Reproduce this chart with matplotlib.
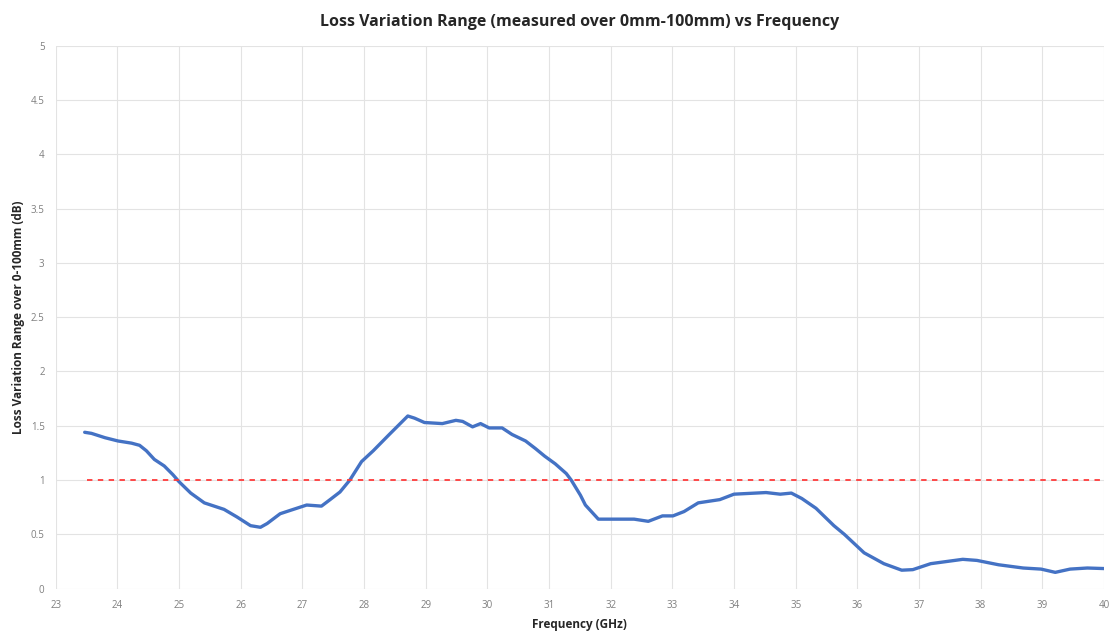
import matplotlib
matplotlib.use("Agg")
import matplotlib.pyplot as plt

# Loss variation range readings (GHz, dB)
freq_ghz = [23.47, 23.58, 23.80, 24.01, 24.23, 24.36, 24.47, 24.60, 24.76, 24.90,
            25.00, 25.19, 25.41, 25.73, 25.94, 26.16, 26.32, 26.43, 26.64, 26.80,
            27.07, 27.31, 27.45, 27.61, 27.77, 27.96, 28.15, 28.41, 28.71, 28.82,
            28.98, 29.27, 29.49, 29.60, 29.76, 29.89, 30.03, 30.24, 30.40, 30.62,
            30.78, 30.93, 31.10, 31.28, 31.36, 31.51, 31.59, 31.80, 32.00, 32.17,
            32.38, 32.61, 32.84, 33.01, 33.19, 33.42, 33.77, 34.00, 34.52, 34.75,
            34.93, 35.10, 35.33, 35.62, 35.79, 36.11, 36.43, 36.72, 36.90, 37.19,
            37.71, 37.94, 38.29, 38.69, 38.98, 39.21, 39.45, 39.73, 40.00]
loss_db = [1.44, 1.43, 1.39, 1.36, 1.34, 1.32, 1.27, 1.19, 1.13, 1.05,
           0.985, 0.88, 0.79, 0.73, 0.66, 0.58, 0.565, 0.60, 0.69, 0.72,
           0.77, 0.76, 0.82, 0.89, 1.00, 1.17, 1.27, 1.42, 1.59, 1.57,
           1.53, 1.52, 1.55, 1.54, 1.49, 1.52, 1.48, 1.48, 1.42, 1.36,
           1.29, 1.22, 1.15, 1.06, 1.00, 0.86, 0.77, 0.64, 0.64, 0.64,
           0.64, 0.62, 0.67, 0.67, 0.71, 0.79, 0.82, 0.87, 0.885, 0.87,
           0.88, 0.83, 0.74, 0.58, 0.50, 0.33, 0.23, 0.17, 0.175, 0.23,
           0.27, 0.26, 0.22, 0.19, 0.18, 0.15, 0.18, 0.19, 0.185]

limit_x = [23.5, 40]
limit_y = [1, 1]

x_ticks = list(range(23, 41))
y_ticks = [0, 0.5, 1, 1.5, 2, 2.5, 3, 3.5, 4, 4.5, 5]

plt.rcParams['font.family'] = ['Open Sans', 'DejaVu Sans']

fig = plt.figure(figsize=(11.14, 6.35), dpi=100)
ax = fig.add_axes([0.050, 0.073, 0.941, 0.855])

ax.plot(freq_ghz, loss_db, color="#4472C4", linewidth=2.4,
        solid_capstyle="round", solid_joinstyle="round")
ax.plot(limit_x, limit_y, color="#FF3B3B", linewidth=1.3, linestyle=(0, (3, 3)))

ax.set_xlim(23, 40)
ax.set_ylim(0, 5)
ax.set_xticks(x_ticks)
ax.set_yticks(y_ticks)
ax.set_yticklabels([f"{v:g}" for v in y_ticks])

ax.grid(True, color="#E3E3E3", linewidth=0.8)
ax.set_axisbelow(True)
for s in ax.spines.values():
    s.set_visible(False)
ax.tick_params(length=0, labelsize=7, colors="#7F7F7F", pad=8)

ax.set_title("Loss Variation Range (measured over 0mm-100mm) vs Frequency",
             fontsize=11.5, fontweight="bold", color="#262626", pad=14)
ax.set_xlabel("Frequency (GHz)", fontsize=8.5, fontweight="bold", color="#262626", labelpad=5)
ax.set_ylabel("Loss Variation Range over 0-100mm (dB)", fontsize=8.5,
              fontweight="bold", color="#262626", labelpad=4)

fig.savefig("out.png", dpi=100)
